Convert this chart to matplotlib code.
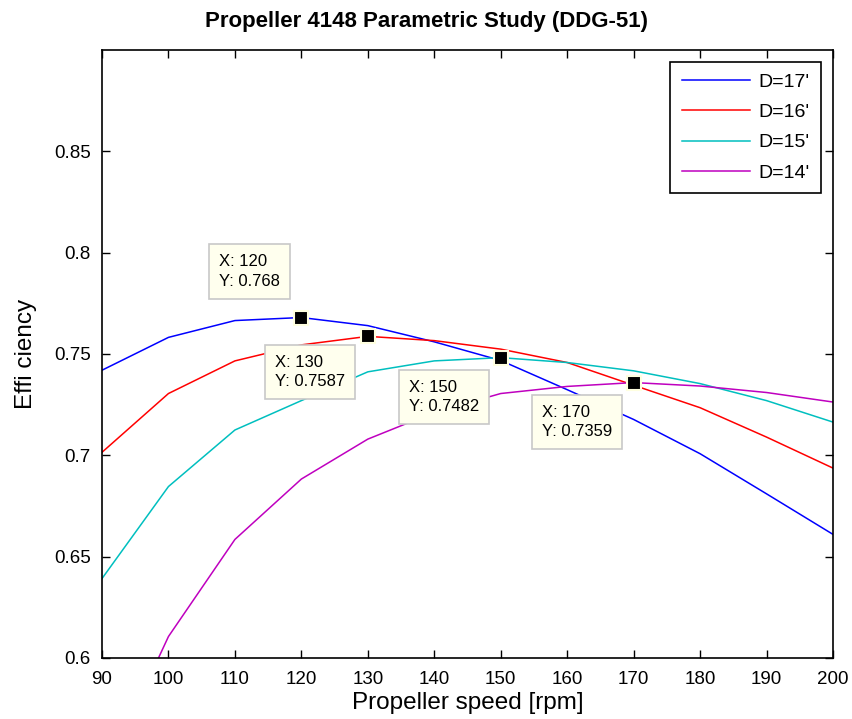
import matplotlib
matplotlib.use("Agg")
import matplotlib.pyplot as plt

rpm = [90, 100, 110, 120, 130, 140, 150, 160, 170, 180, 190, 200]
eff_17 = [0.742, 0.7582, 0.7665, 0.768, 0.764, 0.756, 0.7468, 0.7324, 0.7177, 0.7008, 0.681, 0.661]
eff_16 = [0.7015, 0.7305, 0.7466, 0.7545, 0.7587, 0.7566, 0.7524, 0.7458, 0.7346, 0.7235, 0.709, 0.6937]
eff_15 = [0.6392, 0.6846, 0.7125, 0.727, 0.7412, 0.7466, 0.7482, 0.7458, 0.7417, 0.7354, 0.727, 0.7164]
eff_14 = [0.54, 0.6106, 0.6585, 0.6883, 0.708, 0.7212, 0.7305, 0.734, 0.7359, 0.7342, 0.731, 0.7263]
labels = ["D=17'", "D=16'", "D=15'", "D=14'"]
colors = ["#0000ff", "#ff0000", "#00bfbf", "#bf00bf"]

tips_x = [120, 130, 150, 170]
tips_y = [0.768, 0.7587, 0.7482, 0.7359]
tips_txt = ["X: 120\nY: 0.768", "X: 130\nY: 0.7587", "X: 150\nY: 0.7482", "X: 170\nY: 0.7359"]
tips_off = [(-37.4, 33.1), (-41.8, -25.9), (-40.7, -28.4), (-40.7, -28.4)]

xticks = [90, 100, 110, 120, 130, 140, 150, 160, 170, 180, 190, 200]
yticks = [0.6, 0.65, 0.7, 0.75, 0.8, 0.85]

plt.rcParams['font.family'] = ['Liberation Sans', 'DejaVu Sans']

fig = plt.figure(figsize=(8.53, 7.19), dpi=100)
ax = fig.add_axes([102/853, 1-658/719, (833-102)/853, (658-50)/719])

for y, lab, c in zip([eff_17, eff_16, eff_15, eff_14], labels, colors):
    ax.plot(rpm, y, color=c, lw=1.1, label=lab)

ax.set_xlim(90, 200)
ax.set_ylim(0.6, 0.9)
ax.set_xticks(xticks)
ax.set_xticklabels([str(v) for v in xticks])
ax.set_yticks(yticks)
ax.set_yticklabels([f"{v:g}" for v in yticks])
ax.tick_params(direction='in', top=True, right=True, length=6, width=1, labelsize=13.5)
ax.tick_params(axis='x', pad=9)
ax.tick_params(axis='y', pad=8)
for s in ax.spines.values():
    s.set_linewidth(1.2)

ax.set_xlabel("Propeller speed [rpm]", fontsize=17.5, labelpad=3)
ax.set_ylabel("Effi ciency", fontsize=17.5, labelpad=12)
fig.text(0.5, 1 - 22/719, "Propeller 4148 Parametric Study (DDG-51)", ha='center', va='center',
         fontsize=16, fontweight='bold')

leg = ax.legend(loc='upper right', fontsize=14, handlelength=3.5, frameon=True, fancybox=False,
                borderpad=0.6, labelspacing=0.65, handletextpad=0.45, borderaxespad=0.6)
leg.get_frame().set_edgecolor('black')
leg.get_frame().set_linewidth(1.2)
leg.get_frame().set_alpha(1)

for tx, ty, t, off in zip(tips_x, tips_y, tips_txt, tips_off):
    ax.plot(tx, ty, marker='s', ms=10, mfc='black', mec='#ffffe0', mew=1.5, zorder=6)
    ax.annotate(t, xy=(tx, ty), xytext=off, textcoords='offset points', ha='center', va='center',
                multialignment='left', fontsize=12, linespacing=1.35, zorder=7,
                bbox=dict(boxstyle='square,pad=0.6', fc='#ffffee', ec='#c8c8c8', lw=1.2))

fig.savefig("out.png", dpi=100)
